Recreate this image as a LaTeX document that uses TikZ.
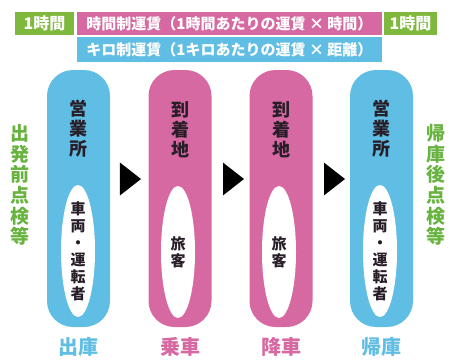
\documentclass[tikz,border=0pt]{standalone}
\usepackage{fontspec}
\setmainfont{Noto Sans CJK JP}
\usetikzlibrary{shapes.geometric}
\definecolor{kblue}{RGB}{96,189,228}
\definecolor{kpink}{RGB}{214,104,162}
\definecolor{kgreen}{RGB}{126,184,60}
\definecolor{kgtext}{RGB}{104,178,64}
\definecolor{ktext}{RGB}{40,30,40}

\begin{document}
\begin{tikzpicture}[x=1pt,y=-1pt,
    bar/.style={inner sep=0pt, minimum height=23pt, text=white, font=\bfseries\fontsize{15}{15}\selectfont},
    pill/.style={rounded corners=26pt, inner sep=0pt, minimum width=63pt, minimum height=257pt},
    egg/.style={ellipse, fill=white, inner sep=0pt, minimum width=34pt, minimum height=132pt},
    vtext/.style={align=center, inner sep=0pt, text=ktext, font=\bfseries\fontsize{18}{20}\selectfont},
    etext/.style={align=center, inner sep=0pt, text=ktext, font=\bfseries\fontsize{15}{17}\selectfont},
    side/.style={align=center, inner sep=0pt, text=kgtext, font=\bfseries\fontsize{19}{20.7}\selectfont},
    foot/.style={inner sep=0pt, font=\bfseries\fontsize{20}{20}\selectfont},
    tri/.style={isosceles triangle, isosceles triangle apex angle=76, fill=black, inner sep=0pt, minimum height=21pt, minimum width=27pt}]
    \useasboundingbox (0,0) rectangle (452,360);

    \node[bar, fill=kgreen, minimum width=59pt, font=\bfseries\fontsize{16}{16}\selectfont] (hourL) at (44.5,23.5) {1時間};
    \node[bar, fill=kpink, minimum width=305pt] (timefare) at (229.5,23.5) {時間制運賃（1時間あたりの運賃 × 時間）};
    \node[bar, fill=kgreen, minimum width=53pt, font=\bfseries\fontsize{16}{16}\selectfont] (hourR) at (410.5,23.5) {1時間};
    \node[bar, fill=kblue, minimum width=305pt, minimum height=25pt] (kmfare) at (229.5,49.5) {キロ制運賃（1キロあたりの運賃 × 距離）};

    \node[pill, fill=kblue] (office1) at (78.5,198.5) {};
    \node[pill, fill=kpink] (dest1) at (180,198.5) {};
    \node[pill, fill=kpink] (dest2) at (281,198.5) {};
    \node[pill, fill=kblue] (office2) at (381.5,198.5) {};

    \node[vtext] at (78.5,129) {営\\業\\所};
    \node[vtext] at (180,130) {到\\着\\地};
    \node[vtext] at (281,130) {到\\着\\地};
    \node[vtext] at (381.5,129) {営\\業\\所};

    \node[egg] (crew1) at (78,251) {};
    \node[egg] (pax1) at (178,252) {};
    \node[egg] (pax2) at (279,252) {};
    \node[egg] (crew2) at (380,251) {};

    \node[etext] at (crew1) {車\\両\\・\\運\\転\\者};
    \node[etext] at (pax1) {旅\\客};
    \node[etext] at (pax2) {旅\\客};
    \node[etext] at (crew2) {車\\両\\・\\運\\転\\者};

    \node[tri] (go1) at (128,179) {};
    \node[tri] (go2) at (231,179) {};
    \node[tri] (go3) at (332,179) {};

    \node[side] (before) at (20,185) {出\\発\\前\\点\\検\\等};
    \node[side] (after) at (436,185) {帰\\庫\\後\\点\\検\\等};

    \node[foot, text=kblue] (out) at (78.5,347) {出庫};
    \node[foot, text=kpink] (ride) at (180,347) {乗車};
    \node[foot, text=kpink] (alight) at (281,347) {降車};
    \node[foot, text=kblue] (back) at (381.5,347) {帰庫};
\end{tikzpicture}
\end{document}
